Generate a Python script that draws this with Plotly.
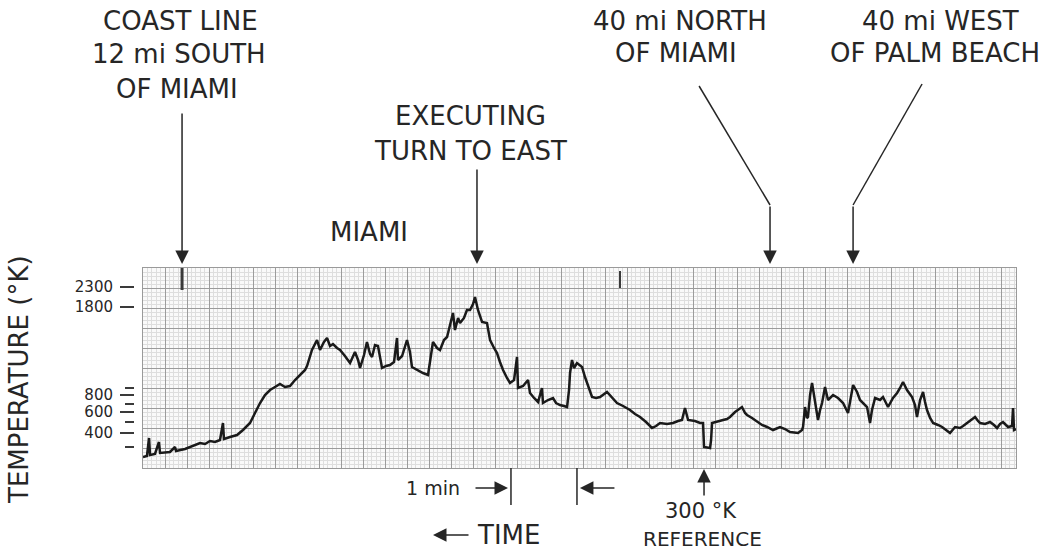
import plotly.graph_objects as go

# Recorder trace: elapsed chart time (s) and pen deflection (chart divisions, 0 = bottom of paper)
time_s = [
    0.0, 3.6, 5.5, 6.4, 10.9, 14.5, 15.5, 24.5, 29.1, 30.0, 38.2, 47.3, 51.8, 56.4, 60.9,
    65.5, 70.0, 72.7, 73.6, 79.1, 85.5, 90.9, 97.3, 101.8, 106.4, 110.9, 115.5, 120.0, 124.5,
    129.1, 133.6, 138.2, 142.7, 147.3, 149.1, 153.6, 158.2, 160.9, 164.5, 167.3, 170.0, 172.7,
    176.4, 179.1, 183.6, 188.2, 192.7, 195.5, 197.3, 200.9, 203.6, 206.4, 208.2, 210.9, 213.6,
    217.3, 220.9, 224.5, 228.2, 230.9, 231.8, 235.5, 240.0, 242.7, 244.5, 249.1, 254.5, 259.1,
    263.6, 267.3, 270.0, 273.6, 276.4, 279.1, 281.8, 283.6, 286.4, 288.2, 291.8, 294.5, 297.3,
    300.0, 301.8, 304.5, 308.2, 312.7, 315.5, 319.1, 321.8, 324.5, 327.3, 330.9, 333.6, 337.3,
    340.0, 340.9, 345.5, 350.0, 351.8, 355.5, 359.1, 362.7, 363.6, 368.2, 372.7, 375.5, 379.1,
    382.7, 385.5, 387.3, 388.2, 390.0, 391.8, 394.5, 397.3, 399.1, 401.8, 403.6, 406.4, 408.2,
    411.8, 415.5, 421.8, 426.4, 430.9, 436.4, 442.7, 447.3, 451.8, 457.3, 462.7, 466.4, 470.0,
    476.4, 481.8, 486.4, 490.0, 492.7, 494.5, 495.5, 501.8, 506.4, 509.1, 510.0, 515.5, 516.4,
    517.3, 522.7, 527.3, 530.9, 533.6, 538.2, 542.7, 544.5, 547.3, 549.1, 553.6, 558.2, 562.7,
    567.3, 572.7, 579.1, 583.6, 588.2, 595.5, 599.1, 600.0, 601.8, 603.6, 604.5, 606.4, 608.2,
    610.0, 610.9, 613.6, 615.5, 617.3, 620.0, 622.7, 627.3, 631.8, 636.4, 640.9, 645.5, 649.1,
    651.8, 655.5, 658.2, 660.9, 662.7, 665.5, 670.0, 672.7, 677.3, 681.8, 685.5, 688.2, 690.9,
    694.5, 697.3, 699.1, 701.8, 703.6, 706.4, 709.1, 710.9, 712.7, 715.5, 718.2, 722.7, 726.4,
    730.0, 733.6, 738.2, 742.7, 745.5, 749.1, 752.7, 756.4, 759.1, 760.9, 765.5, 770.0, 773.6,
    776.4, 779.1, 781.8, 784.5, 786.4, 790.0, 790.9, 791.8, 793.6,
]
deflection_div = [
    0.55, 0.60, 1.50, 0.65, 0.70, 1.30, 0.75, 0.80, 1.05, 0.85, 0.95, 1.15, 1.25, 1.20, 1.35,
    1.30, 1.40, 2.25, 1.45, 1.55, 1.65, 1.90, 2.25, 2.75, 3.25, 3.65, 3.90, 4.05, 4.20,
    4.05, 4.10, 4.40, 4.65, 4.90, 5.10, 5.90, 6.40, 5.90, 6.30, 6.50, 6.10, 6.20,
    6.00, 5.90, 5.60, 5.25, 5.80, 5.40, 5.00, 5.65, 6.30, 5.70, 5.55, 6.15, 6.10,
    5.00, 5.10, 5.15, 5.30, 6.50, 5.40, 5.60, 6.40, 5.80, 5.05, 4.90, 4.75, 4.65,
    6.30, 6.00, 5.90, 6.40, 6.55, 7.15, 7.75, 6.90, 7.50, 7.25, 7.50, 7.90, 7.90,
    8.20, 8.55, 7.90, 7.30, 7.25, 6.40, 6.00, 5.75, 5.30, 4.90, 4.50, 4.25, 4.40,
    5.55, 4.00, 4.10, 4.40, 3.75, 3.50, 3.30, 4.00, 3.25, 3.40, 3.50, 3.25, 3.15,
    3.10, 3.05, 3.90, 4.75, 5.40, 5.00, 5.25, 5.15, 5.05, 4.55, 4.25, 3.80, 3.55,
    3.50, 3.55, 3.80, 3.50, 3.25, 3.10, 2.90, 2.70, 2.55, 2.30, 2.00, 2.10, 2.25,
    2.20, 2.25, 2.35, 2.40, 3.00, 2.50, 2.40, 2.35, 2.25, 2.25, 1.05, 1.00, 1.40,
    2.25, 2.35, 2.40, 2.45, 2.55, 2.80, 2.95, 3.05, 2.75, 2.65, 2.50, 2.30, 2.15,
    2.05, 1.90, 2.05, 1.95, 1.80, 1.75, 1.90, 2.05, 3.05, 2.50, 2.55, 3.65, 4.25,
    3.65, 3.25, 2.40, 2.90, 3.25, 4.05, 3.40, 3.65, 3.50, 3.25, 2.75, 4.15, 3.80,
    3.40, 3.20, 3.05, 2.25, 2.90, 3.50, 3.40, 3.55, 3.05, 3.50, 3.75, 4.00, 4.30,
    3.90, 3.65, 3.55, 3.15, 2.55, 3.40, 3.80, 3.30, 2.90, 2.50, 2.25, 2.15, 2.05,
    1.90, 1.75, 2.05, 2.00, 2.10, 2.25, 2.40, 2.55, 2.35, 2.25, 2.20, 2.30, 2.15,
    2.00, 2.20, 2.30, 2.15, 2.05, 2.10, 3.00, 1.90, 1.95,
]

# Temperature calibration of the pen deflection
cal_temp_k = [2300, 1800, 900, 800, 700, 600, 500, 400, 300]
cal_deflection = [9.05, 8.05, 4.00, 3.65, 3.20, 2.80, 2.30, 1.75, 1.05]
labeled_temps = [2300, 1800, 800, 600, 400]

# Event times along the chart (s)
coast_time = 35.5
turn_time = 303.6
north_time = 570.0
west_time = 645.5
minute_mark = 334.5
minute_len = 60.0
reference_time = 510.0
top_mark_time = 433.6

chart_span = 793.6

W, H = 1060, 552
INK = "#262626"
FONT = "DejaVu Sans"


def fx(px):
    return px / W


def fy(py):
    return 1 - py / H


major_vals = [d for t, d in zip(cal_temp_k, cal_deflection) if t in labeled_temps]
major_text = [str(t) for t in cal_temp_k if t in labeled_temps]
minor_vals = [d for t, d in zip(cal_temp_k, cal_deflection) if t not in labeled_temps]

fig = go.Figure()
fig.add_trace(go.Scatter(
    x=time_s, y=deflection_div, mode="lines",
    line=dict(color="#1a1a1a", width=2.5),
    hoverinfo="skip", showlegend=False,
))
# empty series that carries the temperature scale
fig.add_trace(go.Scatter(x=[], y=[], yaxis="y2", mode="lines",
                         hoverinfo="skip", showlegend=False))

fig.update_layout(
    width=W, height=H,
    margin=dict(l=0, r=0, t=0, b=0),
    paper_bgcolor="#ffffff",
    plot_bgcolor="#fafafa",
    showlegend=False,
    font=dict(family=FONT, color=INK),
    xaxis=dict(
        domain=[fx(143), fx(1016)], range=[0, chart_span],
        tick0=0, dtick=20, showgrid=True, gridcolor="#9c9c9c", gridwidth=1,
        minor=dict(tick0=0, dtick=4, showgrid=True, gridcolor="#dedede", gridwidth=1),
        showticklabels=False, ticks="", zeroline=False,
        showline=True, linecolor="#9a9a9a", mirror=True,
    ),
    yaxis=dict(
        domain=[fy(468), fy(268)], range=[0, 10],
        tick0=0, dtick=1, showgrid=True, gridcolor="#9c9c9c", gridwidth=1,
        minor=dict(tick0=0, dtick=0.2, showgrid=True, gridcolor="#dedede", gridwidth=1),
        showticklabels=False, ticks="", zeroline=False,
        showline=True, linecolor="#9a9a9a", mirror=True,
    ),
    yaxis2=dict(
        overlaying="y", anchor="free", position=fx(134), side="left",
        range=[0, 10], showgrid=False, zeroline=False, showline=False,
        tickmode="array", tickvals=major_vals, ticktext=major_text,
        ticks="outside", ticklen=14, tickwidth=1.6, tickcolor="#3a3a3a",
        tickfont=dict(family=FONT, size=15, color=INK),
        ticklabelstandoff=4,
        minor=dict(tickmode="array", tickvals=minor_vals, ticks="outside",
                   ticklen=9, tickwidth=1.6, tickcolor="#3a3a3a", showgrid=False),
    ),
)

annotations = []


def text(px, py, s, size=26, **kw):
    annotations.append(dict(
        x=fx(px), y=fy(py), xref="paper", yref="paper", text=s, showarrow=False,
        xanchor="center", yanchor="middle",
        font=dict(family=FONT, size=size, color=INK), **kw))


def arrow(x, xref, py, ax, ay):
    annotations.append(dict(
        x=x, y=fy(py), xref=xref, yref="paper", text="", showarrow=True,
        ax=ax, ay=ay, arrowhead=2, arrowsize=1.8, arrowwidth=1.5,
        arrowcolor=INK, standoff=0, startstandoff=0))


# Headline labels above the chart
text(180, 21, "COAST LINE")
text(179, 54, "12 mi SOUTH")
text(177, 89, "OF MIAMI")
text(470, 116, "EXECUTING")
text(470, 151, "TURN TO EAST")
text(369, 232, "MIAMI")
text(680, 21, "40 mi NORTH")
text(676, 53, "OF MIAMI")
text(940, 21, "40 mi WEST")
text(935, 53, "OF PALM BEACH")

# Event arrows pointing down at the chart
arrow(coast_time, "x", 264, 0, -152)
arrow(turn_time, "x", 264, 0, -96)
arrow(north_time, "x", 264, 0, -59)
arrow(west_time, "x", 264, 0, -59)

# Axis title
text(19, 380, "TEMPERATURE (°K)", size=26, textangle=-90)

# Time scale and reference labels below the chart
text(433, 488, "1 min", size=19)
arrow(minute_mark - 2.7, "x", 488, -34, 0)
arrow(minute_mark + minute_len + 2.7, "x", 488, 36, 0)
text(701, 511, "300 °K", size=21)
text(702, 539, "REFERENCE", size=20)
arrow(reference_time, "x", 469, 0, 28)
text(508, 535, "TIME", size=26)
arrow(fx(433), "paper", 535, 37, 0)

fig.update_layout(annotations=annotations)

shapes = [
    # bent leader lines for the two right-hand labels
    dict(type="line", xref="x", yref="paper", x0=505.5, y0=fy(86), x1=north_time, y1=fy(205),
         line=dict(color=INK, width=1.5)),
    dict(type="line", xref="x", yref="paper", x0=708.2, y0=fy(84), x1=west_time, y1=fy(205),
         line=dict(color=INK, width=1.5)),
    # one-minute bracket marks
    dict(type="line", xref="x", yref="paper", x0=minute_mark, y0=fy(468), x1=minute_mark, y1=fy(505),
         line=dict(color=INK, width=1.5)),
    dict(type="line", xref="x", yref="paper", x0=minute_mark + minute_len, y0=fy(468),
         x1=minute_mark + minute_len, y1=fy(505), line=dict(color=INK, width=1.5)),
    # event pips written on the top edge of the paper
    dict(type="line", xref="x", yref="paper", x0=coast_time, y0=fy(268), x1=coast_time, y1=fy(290),
         line=dict(color="#3a3a3a", width=3)),
    dict(type="line", xref="x", yref="paper", x0=top_mark_time, y0=fy(271), x1=top_mark_time, y1=fy(288),
         line=dict(color="#3a3a3a", width=2)),
]
fig.update_layout(shapes=shapes)

fig.write_html("out.html")
